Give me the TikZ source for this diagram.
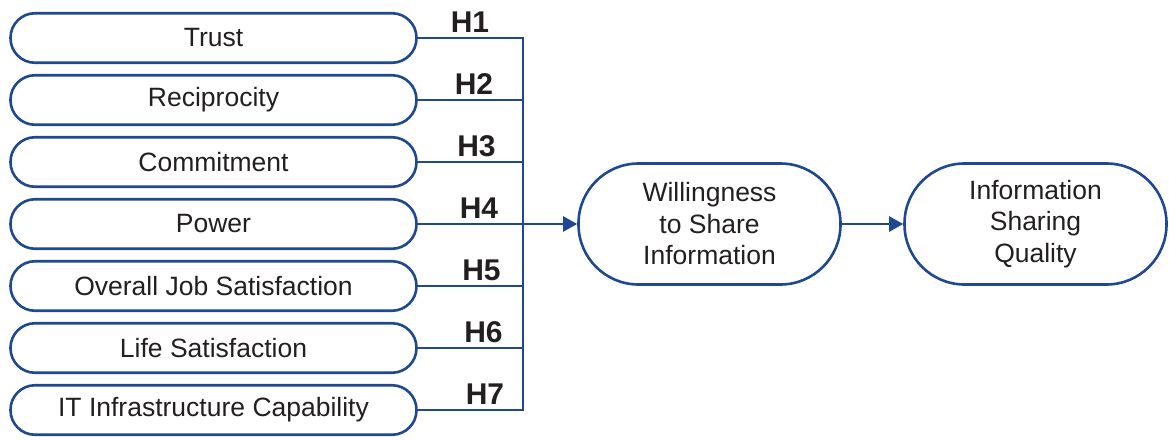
\documentclass[tikz,border=0pt]{standalone}
\usepackage{fontspec}
\setmainfont{Liberation Sans}
\usetikzlibrary{arrows.meta}
\definecolor{navy}{RGB}{30,72,143}
\definecolor{ink}{RGB}{35,31,32}
\begin{document}
\begin{tikzpicture}[x=1pt,y=-1pt,
  factor/.style={draw=navy, line width=2.6pt, fill=white, rounded corners=24.5pt,
    minimum width=406pt, minimum height=49.5pt, inner sep=0pt, text=ink,
    font=\fontsize{26.5}{30}\selectfont},
  construct/.style={draw=navy, line width=2.6pt, fill=white, rounded corners=60pt,
    minimum width=262pt, minimum height=121pt, inner sep=0pt, align=center, text=ink,
    font=\fontsize{26.5}{31.5}\selectfont},
  hyp/.style={anchor=base, inner sep=0pt, text=ink, font=\bfseries\fontsize{30}{32}\selectfont},
  link/.style={draw=navy, line width=2.6pt},
  flow/.style={link, -{Triangle[length=14pt,width=15pt]}}
]
\useasboundingbox (0,0) rectangle (1169,439);

% antecedent factors
\node[factor] (f1) at (213.5,38)  {Trust};
\node[factor] (f2) at (213.5,100) {Reciprocity};
\node[factor] (f3) at (213.5,162) {Commitment};
\node[factor] (f4) at (213.5,224) {Power};
\node[factor] (f5) at (213.5,286) {Overall Job Satisfaction};
\node[factor] (f6) at (213.5,348) {Life Satisfaction};
\node[factor] (f7) at (213.5,410) {IT Infrastructure Capability};

% outcome constructs
\node[construct] (wts) at (709.5,224) {Willingness\\to Share\\Information};
\node[construct] (isq) at (1035.5,224) {Information\\Sharing\\Quality};

% collecting bus
\coordinate (bus) at (523,224);
\draw[link] (f1.east) -- (f1.east -| bus) -- (f7.east -| bus) -- (f7.east);
\foreach \i in {2,3,5,6} \draw[link] (f\i.east) -- (f\i.east -| bus);
\draw[flow] (f4.east) -- (wts.west);
\draw[flow] (wts.east) -- (isq.west);

% hypothesis labels
\node[hyp] (h1) at (470,32)  {H1};
\node[hyp] (h2) at (474,94)  {H2};
\node[hyp] (h3) at (476.5,156) {H3};
\node[hyp] (h4) at (479,218) {H4};
\node[hyp] (h5) at (481.5,280) {H5};
\node[hyp] (h6) at (483.5,342) {H6};
\node[hyp] (h7) at (485,404) {H7};
\end{tikzpicture}
\end{document}
